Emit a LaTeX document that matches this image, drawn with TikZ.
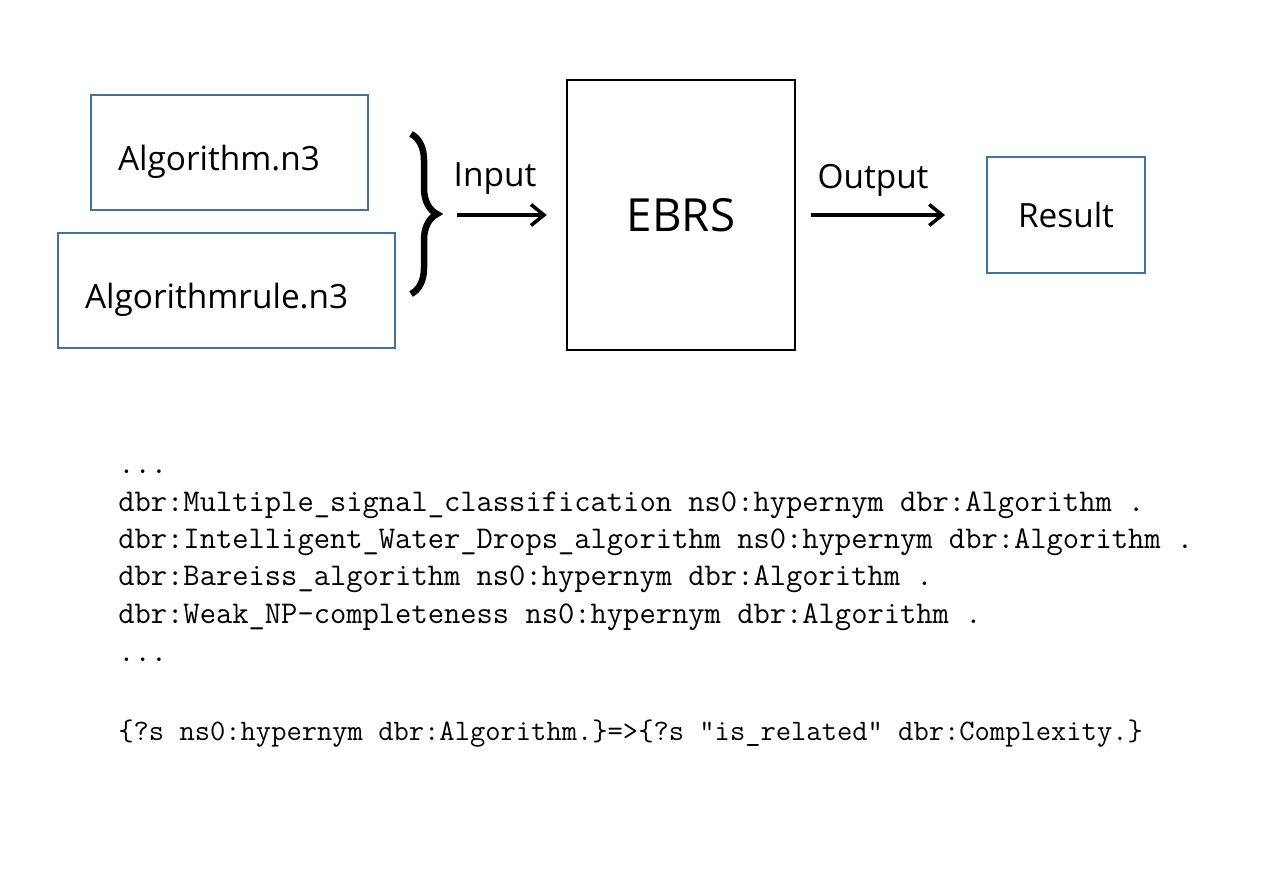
\documentclass[tikz,border=0pt]{standalone}
\usepackage{fontspec}
\setsansfont{Open Sans}
\usetikzlibrary{arrows.meta,decorations.pathreplacing}
\definecolor{boxblue}{HTML}{41719C}

\begin{document}
\begin{tikzpicture}[x=0.02cm, y=-0.02cm,
        file/.style={draw=boxblue, line width=0.04cm, minimum height=2.3cm, inner xsep=0.54cm, align=left, font=\sffamily\fontsize{19}{23}\selectfont, text height=20pt, text depth=0pt},
        arr/.style={line width=0.07cm, -{Straight Barb[length=0.26cm,width=0.42cm]}},
        lbl/.style={anchor=base, font=\sffamily\fontsize{19}{23}\selectfont},
        triple/.style={anchor=base west, inner sep=0pt, font=\ttfamily\fontsize{18}{21}\selectfont}]
    \useasboundingbox (0, 0) rectangle (1269, 879);
    % \draw (0, 0) grid[step=100] (1269, 879);
    \node[file, text width=4.46cm, name=alg] at (229.5, 152.5) {Algorithm.n3};
    \node[file, text width=5.66cm, name=alg_rule] at (226.5, 290.5) {Algorithmrule.n3};
    \coordinate (brace_top) at (411, 134);
    \coordinate (brace_bot) at (411, 294);
    \coordinate (brace_tip) at (438, 215);
    \draw[line width=0.13cm, decorate, decoration={brace, amplitude=0.52cm}] (brace_top) -- (brace_bot);
    \node[draw, line width=0.05cm, minimum width=4.56cm, minimum height=5.4cm, font=\sffamily\fontsize{26}{31}\selectfont, name=ebrs] at (681, 215) {EBRS};
    \node[draw=boxblue, line width=0.04cm, minimum width=3.16cm, minimum height=2.32cm, font=\sffamily\fontsize{19}{23}\selectfont, name=result] at (1066, 215) {Result};
    \draw[arr, shorten <=0.38cm, shorten >=0.38cm] (brace_tip) -- (ebrs.west);
    \draw[arr, shorten <=0.3cm, shorten >=0.82cm] (ebrs.east) -- (result.west);
    \node[lbl, name=input] at (495, 186) {Input};
    \node[lbl, name=output] at (873, 188) {Output};
    % triples and rule
    \node[triple, name=dots_top] at (118, 473) {...};
    \node[triple, name=triple_1] at (118, 511) {dbr:Multiple\_signal\_classification ns0:hypernym dbr:Algorithm .};
    \node[triple, name=triple_2] at (118, 548) {dbr:Intelligent\_Water\_Drops\_algorithm ns0:hypernym dbr:Algorithm .};
    \node[triple, name=triple_3] at (118, 585) {dbr:Bareiss\_algorithm ns0:hypernym dbr:Algorithm .};
    \node[triple, name=triple_4] at (118, 623) {dbr:Weak\_NP-completeness ns0:hypernym dbr:Algorithm .};
    \node[triple, name=dots_bot] at (118, 661) {...};
    \node[triple, font=\ttfamily\fontsize{16.9}{20}\selectfont, name=rule] at (118, 740) {\{?s ns0:hypernym dbr:Algorithm.\}=>\{?s "is\_related" dbr:Complexity.\}};
\end{tikzpicture}
\end{document}
